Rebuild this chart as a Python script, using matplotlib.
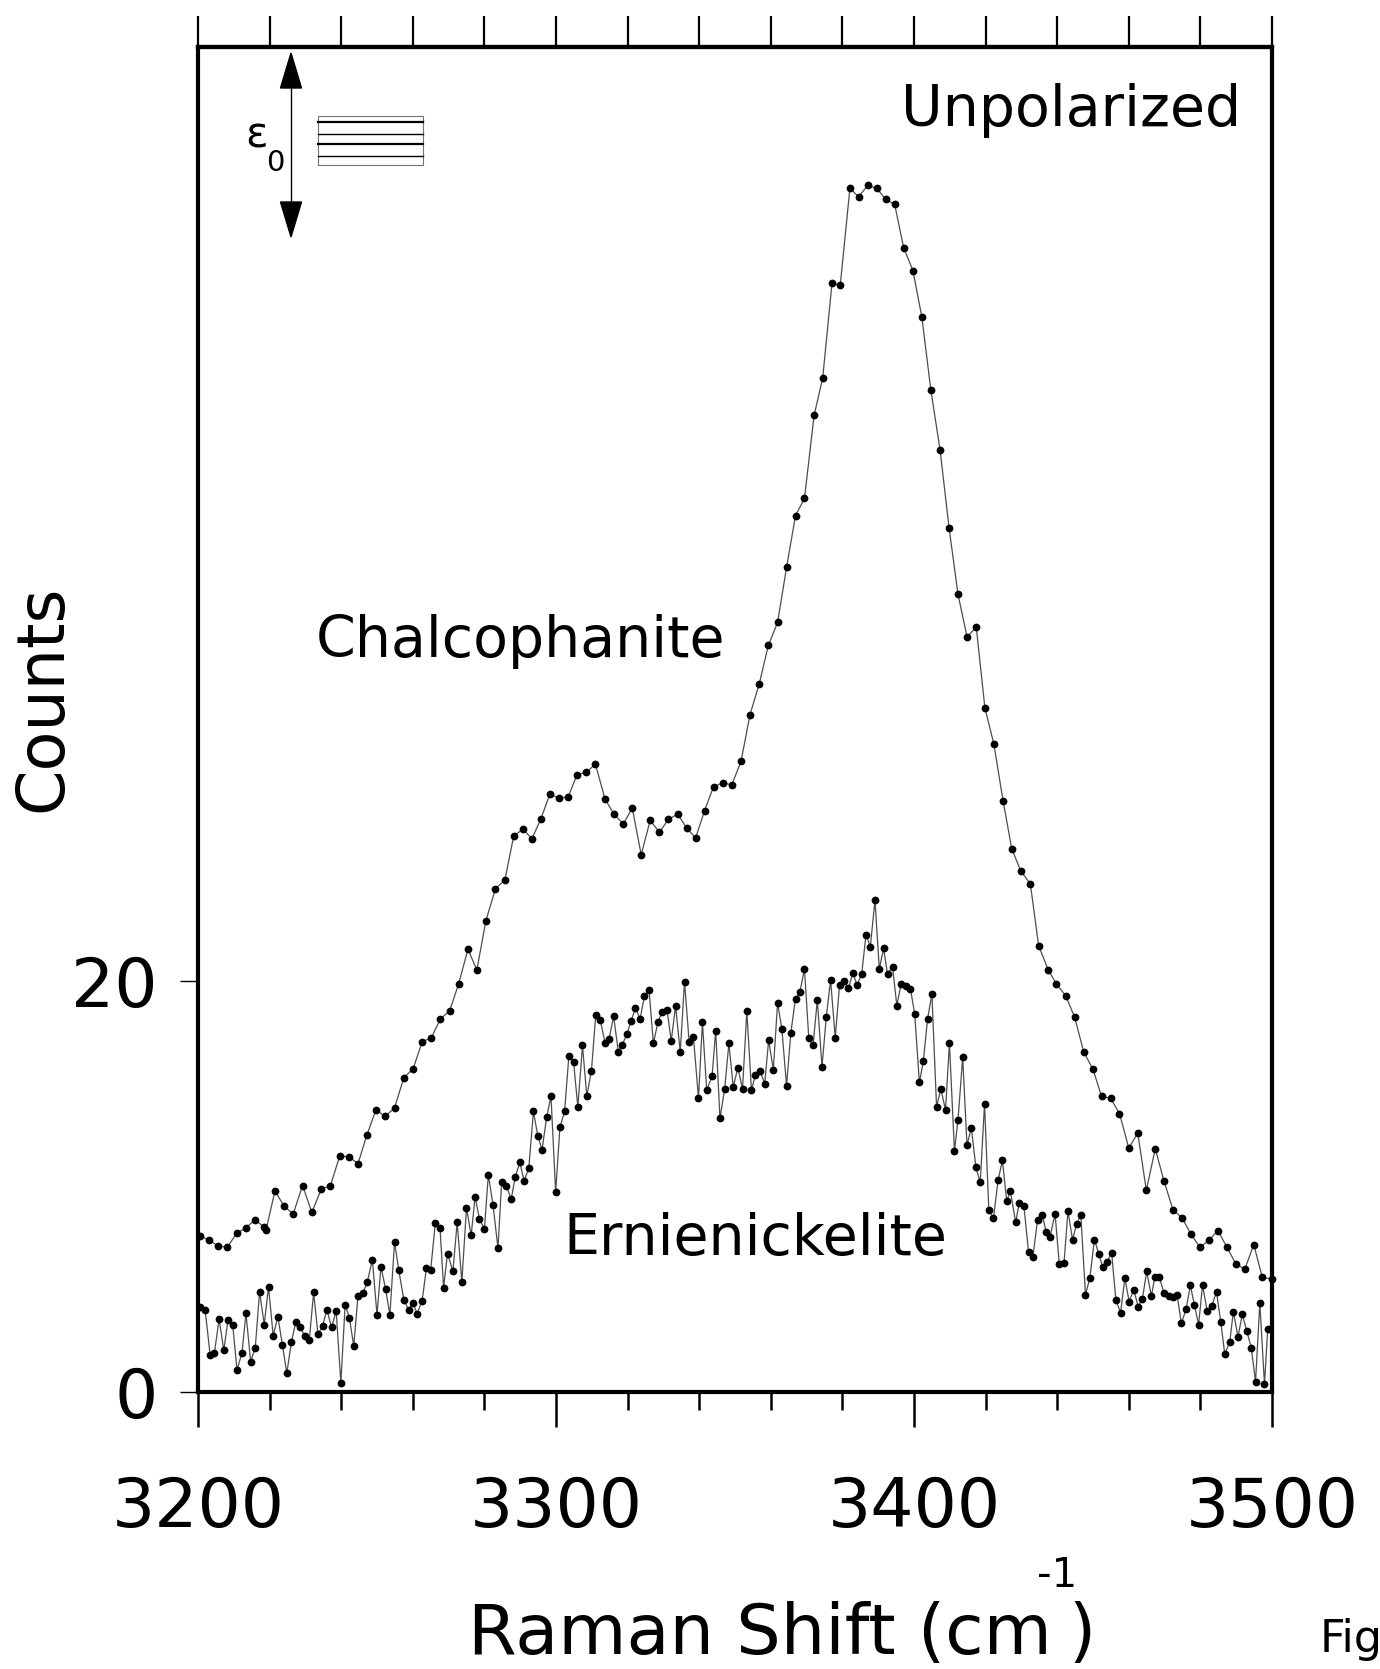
import matplotlib
matplotlib.use('Agg')
import matplotlib.pyplot as plt
from matplotlib.patches import Polygon, Rectangle
from matplotlib.lines import Line2D
from matplotlib.ticker import NullFormatter

plt.rcParams['font.family'] = ['DejaVu Sans']

# Raman spectra (x in cm-1, y in counts)
chalco_x = [3200.6, 3203.1, 3205.6, 3208.2, 3210.8, 3213.4, 3215.9, 3218.4, 3219.0, 3221.5,
            3224.1, 3226.6, 3229.2, 3231.8, 3234.4, 3237.0, 3239.6, 3242.1, 3244.7, 3247.2,
            3249.7, 3252.3, 3254.9, 3257.5, 3260.1, 3262.6, 3265.2, 3267.7, 3270.3, 3272.8,
            3275.4, 3277.9, 3280.4, 3283.1, 3285.7, 3288.2, 3290.8, 3293.3, 3295.8, 3298.3,
            3300.9, 3303.4, 3305.9, 3308.5, 3311.0, 3313.7, 3316.2, 3318.8, 3321.3, 3323.8,
            3326.3, 3328.9, 3331.4, 3334.0, 3336.5, 3339.0, 3341.5, 3344.0, 3346.6, 3349.1,
            3351.7, 3354.2, 3356.8, 3359.3, 3361.9, 3364.4, 3366.9, 3369.4, 3372.1, 3374.5,
            3377.1, 3379.4, 3382.1, 3384.5, 3387.1, 3389.6, 3392.1, 3394.6, 3397.1, 3399.7,
            3402.2, 3404.7, 3407.3, 3409.8, 3412.3, 3414.8, 3417.4, 3419.8, 3422.3, 3424.9,
            3427.3, 3429.8, 3432.5, 3434.8, 3437.5, 3439.8, 3442.4, 3444.9, 3447.4, 3450.0,
            3452.4, 3454.9, 3457.4, 3460.0, 3462.5, 3464.9, 3467.4, 3469.8, 3472.4, 3474.9,
            3477.4, 3479.9, 3482.4, 3484.9, 3487.4, 3489.9, 3492.4, 3494.9, 3497.3, 3499.9]
chalco_y = [7.59, 7.38, 7.10, 7.04, 7.72, 7.98, 8.37, 8.03, 7.87, 9.78,
            9.02, 8.66, 10.04, 8.73, 9.85, 10.04, 11.48, 11.44, 11.11, 12.51,
            13.72, 13.40, 13.82, 15.28, 15.72, 17.02, 17.23, 18.14, 18.54, 19.84,
            21.53, 20.52, 22.90, 24.48, 24.89, 27.04, 27.37, 26.90, 27.88, 29.08,
            28.86, 28.94, 30.02, 30.14, 30.53, 28.83, 28.10, 27.62, 28.39, 26.13,
            27.79, 27.22, 27.85, 28.10, 27.42, 26.94, 28.27, 29.43, 29.62, 29.52,
            30.68, 32.94, 34.45, 36.30, 37.42, 40.10, 42.61, 43.45, 47.49, 49.31,
            53.92, 53.82, 58.53, 58.12, 58.67, 58.53, 57.99, 57.75, 55.65, 54.53,
            52.26, 48.73, 45.79, 42.01, 38.78, 36.73, 37.18, 33.27, 31.51, 28.73,
            26.42, 25.34, 24.71, 21.71, 20.52, 19.84, 19.26, 18.21, 16.54, 15.69,
            14.37, 14.28, 13.54, 11.86, 12.59, 9.81, 11.83, 10.27, 8.84, 8.47,
            7.66, 7.04, 7.38, 7.85, 7.04, 6.23, 5.97, 7.17, 5.57, 5.50]

ernie_x = [3200.6, 3202.0, 3203.4, 3204.6, 3205.9, 3207.2, 3208.4, 3209.7, 3210.9, 3212.3,
           3213.4, 3214.7, 3216.0, 3217.2, 3218.5, 3219.7, 3221.0, 3222.3, 3223.6, 3224.8,
           3226.1, 3227.3, 3228.6, 3229.8, 3231.1, 3232.3, 3233.5, 3234.8, 3236.0, 3237.3,
           3238.6, 3239.9, 3241.1, 3242.3, 3243.5, 3244.7, 3246.0, 3247.3, 3248.7, 3250.0,
           3251.1, 3252.4, 3253.6, 3254.9, 3256.1, 3257.5, 3258.8, 3260.0, 3261.2, 3262.6,
           3263.8, 3265.0, 3266.3, 3267.6, 3268.6, 3269.7, 3271.2, 3272.4, 3273.7, 3275.0,
           3276.3, 3277.4, 3278.6, 3280.0, 3281.1, 3282.4, 3283.8, 3284.8, 3286.1, 3287.5,
           3288.6, 3289.9, 3291.1, 3292.4, 3293.7, 3294.9, 3296.1, 3297.4, 3298.6, 3299.9,
           3301.1, 3302.4, 3303.6, 3304.9, 3306.1, 3307.4, 3308.6, 3309.9, 3311.1, 3312.4,
           3313.7, 3314.8, 3316.1, 3317.4, 3318.5, 3319.8, 3321.0, 3322.2, 3323.5, 3324.7,
           3326.0, 3327.2, 3328.5, 3329.7, 3331.0, 3332.2, 3333.4, 3334.7, 3335.9, 3337.2,
           3338.4, 3339.8, 3340.9, 3342.1, 3343.6, 3344.6, 3345.8, 3347.1, 3348.3, 3349.5,
           3350.8, 3352.1, 3353.3, 3354.6, 3355.7, 3357.0, 3358.3, 3359.4, 3360.7, 3361.9,
           3363.1, 3364.4, 3365.6, 3366.9, 3368.1, 3369.4, 3370.6, 3371.8, 3373.0, 3374.3,
           3375.5, 3376.7, 3378.0, 3379.2, 3380.4, 3381.7, 3382.9, 3384.1, 3385.4, 3386.6,
           3387.8, 3389.1, 3390.3, 3391.5, 3392.6, 3394.0, 3395.2, 3396.4, 3397.7, 3399.0,
           3400.2, 3401.5, 3402.6, 3403.8, 3405.0, 3406.3, 3407.5, 3408.8, 3409.9, 3411.3,
           3412.3, 3413.6, 3414.8, 3416.0, 3417.3, 3418.5, 3419.7, 3420.9, 3422.2, 3423.5,
           3424.7, 3425.9, 3426.9, 3428.4, 3429.4, 3430.7, 3432.0, 3433.2, 3434.5, 3435.8,
           3436.9, 3438.0, 3439.4, 3440.6, 3441.9, 3443.0, 3444.3, 3445.4, 3446.6, 3447.9,
           3449.1, 3450.4, 3451.6, 3452.7, 3453.9, 3455.2, 3456.4, 3457.7, 3458.9, 3460.1,
           3461.4, 3462.6, 3463.8, 3465.0, 3466.3, 3467.3, 3468.5, 3469.8, 3471.1, 3472.3,
           3473.5, 3474.7, 3476.0, 3477.2, 3478.3, 3479.5, 3480.6, 3481.9, 3483.2, 3484.5,
           3485.7, 3486.8, 3488.2, 3489.2, 3490.5, 3491.7, 3492.9, 3494.2, 3495.4, 3496.6,
           3497.9, 3498.8]
ernie_y = [4.14, 3.98, 1.79, 1.92, 3.55, 2.03, 3.52, 3.25, 1.06, 1.92,
           3.83, 1.48, 2.16, 4.87, 3.28, 5.11, 2.74, 3.67, 2.27, 0.91,
           2.44, 3.39, 3.15, 2.71, 2.55, 4.84, 2.81, 3.21, 4.00, 3.15,
           3.93, 0.44, 4.25, 3.59, 2.24, 4.69, 4.79, 5.34, 6.44, 3.75,
           6.10, 5.01, 3.75, 7.29, 5.91, 4.48, 4.01, 4.33, 3.81, 4.43,
           6.02, 5.95, 8.23, 7.97, 5.08, 6.73, 5.87, 8.26, 5.34, 8.97,
           7.61, 9.49, 8.42, 7.92, 10.56, 9.10, 6.99, 10.19, 10.03, 9.38,
           10.46, 11.16, 10.25, 10.90, 13.64, 12.47, 11.78, 13.37, 14.39, 9.73,
           12.87, 13.64, 16.35, 16.05, 13.87, 16.85, 14.39, 15.62, 18.32, 18.07,
           16.98, 17.15, 18.27, 16.55, 16.89, 17.39, 18.06, 18.66, 18.15, 19.26,
           19.53, 16.95, 18.01, 18.49, 18.57, 17.08, 18.78, 16.53, 19.95, 17.00,
           17.24, 14.29, 17.97, 14.68, 15.35, 17.57, 13.30, 14.73, 16.95, 14.83,
           15.77, 14.73, 18.51, 14.68, 15.41, 15.61, 15.00, 17.11, 15.67, 18.91,
           17.65, 14.89, 17.47, 19.13, 19.43, 20.57, 17.23, 16.85, 19.06, 15.82,
           18.23, 20.03, 17.23, 19.79, 19.99, 19.63, 20.37, 19.79, 20.34, 22.24,
           21.66, 23.91, 20.57, 21.57, 20.33, 20.68, 18.79, 19.84, 19.74, 19.61,
           18.38, 15.05, 16.08, 18.15, 19.35, 13.87, 14.73, 13.72, 16.95, 11.71,
           13.25, 16.27, 11.99, 12.86, 10.92, 10.19, 14.00, 8.84, 8.45, 10.32,
           11.26, 9.28, 9.78, 8.26, 9.20, 9.04, 6.80, 6.55, 8.36, 8.63,
           7.80, 7.54, 8.67, 6.20, 6.27, 8.79, 7.40, 8.16, 8.60, 4.74,
           5.52, 7.41, 6.73, 6.07, 6.30, 6.78, 4.46, 3.86, 5.52, 4.40,
           4.98, 4.15, 4.54, 5.86, 4.67, 5.61, 5.61, 4.82, 4.66, 4.63,
           4.70, 3.34, 4.03, 5.18, 4.25, 3.28, 5.19, 3.94, 4.19, 4.87,
           3.39, 1.85, 2.43, 3.91, 2.68, 3.77, 2.99, 2.16, 0.50, 4.33,
           0.38, 3.04]

x_major = [3200, 3300, 3400, 3500]
x_minor = [3220, 3240, 3260, 3280, 3320, 3340, 3360, 3380, 3420, 3440, 3460, 3480]
x_top = [3200, 3220, 3240, 3260, 3280, 3300, 3320, 3340, 3360, 3380,
         3400, 3420, 3440, 3460, 3480, 3500]
y_ticks = [0, 20]
y_labels = ['0', '20']

W, H = 1380, 1669


def fp(x, y):
    # pixel position in the image -> figure fraction
    return x / W, 1 - y / H


def draw_inset(fig):
    # polarization sketch in the upper left corner
    tf = fig.transFigure
    fig.add_artist(Line2D(*zip(fp(291, 86), fp(291, 204)), transform=tf, color='black', lw=1.0))
    fig.add_artist(Polygon([fp(291, 53), fp(280.5, 88), fp(301.5, 88)], closed=True,
                           transform=tf, color='black'))
    fig.add_artist(Polygon([fp(291, 237), fp(280.5, 202), fp(301.5, 202)], closed=True,
                           transform=tf, color='black'))
    x0, y0 = fp(318, 164.5)
    x1, y1 = fp(422.5, 116.5)
    fig.add_artist(Rectangle((x0, y0), x1 - x0, y1 - y0, transform=tf, fill=False,
                             ec='0.45', lw=0.8))
    for yy, lw in [(121.7, 1.6), (133.7, 1.0), (144.3, 1.6), (156, 1.0)]:
        fig.add_artist(Line2D(*zip(fp(318, yy), fp(422.5, yy)), transform=tf, color='black', lw=lw))
    fig.text(*fp(257, 136), '\u03b5', fontsize=30, ha='center', va='center')
    fig.text(*fp(275, 163), '0', fontsize=21, ha='center', va='center')


def draw_xlabel(fig):
    # "Raman Shift (cm-1)" built from pieces so the superscript sits like the original
    r = fig.canvas.get_renderer()
    base = 1654
    t1 = fig.text(*fp(468, base), 'Raman Shift (cm', fontsize=50.5, ha='left', va='baseline')
    x = t1.get_window_extent(r).x1
    t2 = fig.text(x / W - 0.011, 1 - 1587 / H, '-1', fontsize=29, ha='left', va='baseline')
    x = t2.get_window_extent(r).x1
    fig.text(x / W - 0.006, 1 - base / H, ')', fontsize=50.5, ha='left', va='baseline')


fig = plt.figure(figsize=(13.8, 16.69), dpi=100)
ax = fig.add_axes([198 / W, 1 - 1392 / H, 1074 / W, 1345 / H])

for xs, ys in [(chalco_x, chalco_y), (ernie_x, ernie_y)]:
    ax.plot(xs, ys, '-', color='0.3', lw=0.9, clip_on=False, zorder=2)
    ax.plot(xs, ys, 'o', color='black', ms=5.6, mew=0, clip_on=False, zorder=3)

ax.set_xlim(3200, 3500)
ax.set_ylim(0, 65.4)

for s in ax.spines.values():
    s.set_linewidth(3)

ax.set_xticks(x_major)
ax.set_xticks(x_minor, minor=True)
ax.set_yticks(y_ticks)
ax.set_yticklabels(y_labels)
ax.tick_params(axis='x', which='major', direction='out', length=25, width=1.8,
               labelsize=49, pad=35, top=False)
ax.tick_params(axis='x', which='minor', direction='out', length=13, width=1.8, top=False)
ax.tick_params(axis='y', which='major', direction='out', length=13, width=1.0,
               labelsize=49, pad=16, right=False)
ax.tick_params(axis='y', which='minor', left=False, right=False)

top = ax.secondary_xaxis('top')
top.set_xticks(x_top)
top.xaxis.set_major_formatter(NullFormatter())
top.tick_params(direction='out', length=22, width=1.6)
top.spines['top'].set_linewidth(3)

ax.text(3233, 36.5, 'Chalcophanite', fontsize=41, ha='left', va='center')
ax.text(3302.0, 7.4, 'Ernienickelite', fontsize=41, ha='left', va='center')
ax.text(3491.3, 62.3, 'Unpolarized', fontsize=41, ha='right', va='center')

fig.text(*fp(43, 698), 'Counts', fontsize=47, rotation=90, ha='center', va='center')
fig.text(*fp(1320, 1652), 'Fig', fontsize=32, ha='left', va='baseline')

draw_xlabel(fig)
draw_inset(fig)

fig.savefig('out.png', dpi=100)
